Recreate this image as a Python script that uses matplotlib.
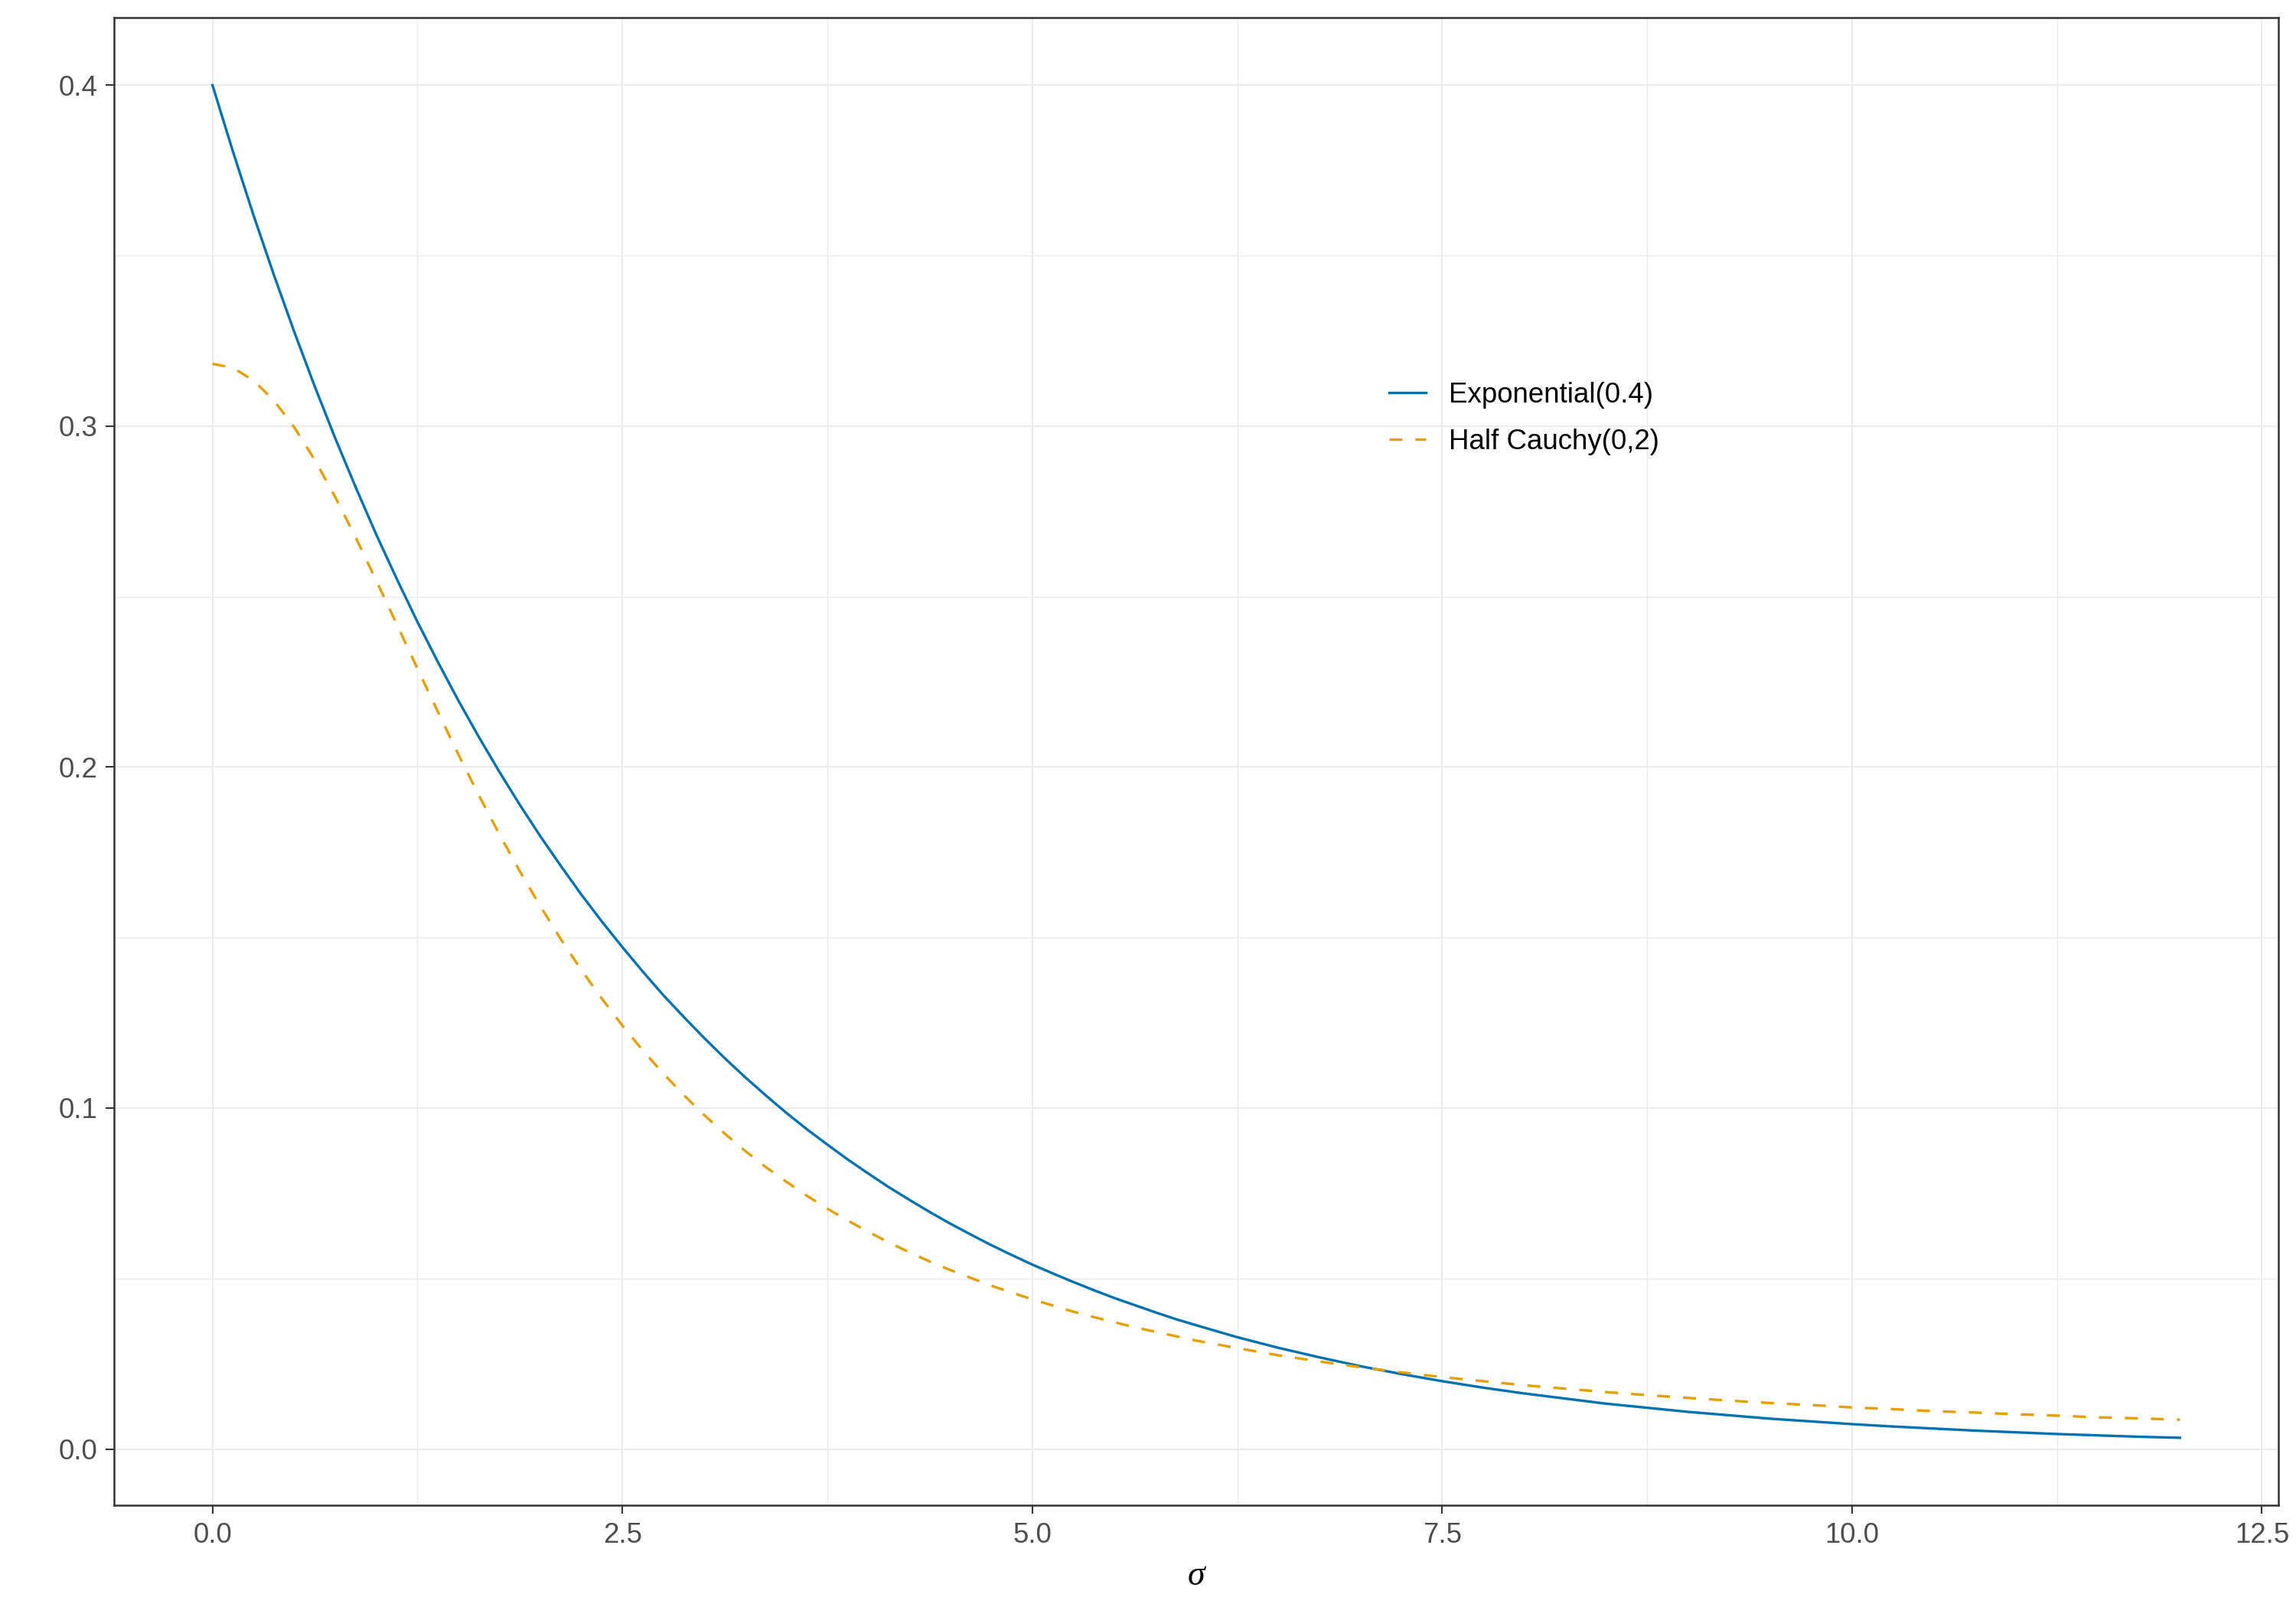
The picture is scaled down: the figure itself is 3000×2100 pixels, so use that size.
import numpy as np
import matplotlib
matplotlib.use("Agg")
import matplotlib.pyplot as plt
from matplotlib.patches import Rectangle
from matplotlib.lines import Line2D


# [DATA] ----------------------------------------------------------------------
# sigma grid: step 0.125 up to 6 (where the curves bend most), 0.25 after
sigma = [0.000, 0.125, 0.250, 0.375, 0.500, 0.625, 0.750, 0.875,
         1.000, 1.125, 1.250, 1.375, 1.500, 1.625, 1.750, 1.875,
         2.000, 2.125, 2.250, 2.375, 2.500, 2.625, 2.750, 2.875,
         3.000, 3.125, 3.250, 3.375, 3.500, 3.625, 3.750, 3.875,
         4.000, 4.125, 4.250, 4.375, 4.500, 4.625, 4.750, 4.875,
         5.000, 5.125, 5.250, 5.375, 5.500, 5.625, 5.750, 5.875,
         6.00, 6.25, 6.50, 6.75, 7.00, 7.25, 7.50, 7.75,
         8.00, 8.25, 8.50, 8.75, 9.00, 9.25, 9.50, 9.75,
         10.00, 10.25, 10.50, 10.75, 11.00, 11.25, 11.50, 11.75, 12.00]

# densities
exponential = [0.4000, 0.3805, 0.3619, 0.3443, 0.3275, 0.3115, 0.2963, 0.2819,
               0.2681, 0.2551, 0.2426, 0.2308, 0.2195, 0.2088, 0.1986, 0.1889,
               0.1797, 0.1710, 0.1626, 0.1547, 0.1472, 0.1400, 0.1331, 0.1267,
               0.1205, 0.1146, 0.1090, 0.1037, 0.0986, 0.0938, 0.0893, 0.0849,
               0.0808, 0.0768, 0.0731, 0.0695, 0.0661, 0.0629, 0.0598, 0.0569,
               0.0541, 0.0515, 0.0490, 0.0466, 0.0443, 0.0422, 0.0401, 0.0381,
               0.0363, 0.0328, 0.0297, 0.0269, 0.0243, 0.0220, 0.0199, 0.0180,
               0.0163, 0.0148, 0.0133, 0.0121, 0.0109, 0.0099, 0.0089, 0.0081,
               0.0073, 0.0066, 0.0060, 0.0054, 0.0049, 0.0044, 0.0040, 0.0036,
               0.0033]

half_cauchy = [0.3183, 0.3171, 0.3134, 0.3075, 0.2996, 0.2900, 0.2791, 0.2672,
               0.2546, 0.2418, 0.2289, 0.2162, 0.2037, 0.1917, 0.1803, 0.1694,
               0.1592, 0.1495, 0.1405, 0.1321, 0.1242, 0.1169, 0.1101, 0.1038,
               0.0979, 0.0925, 0.0874, 0.0827, 0.0784, 0.0743, 0.0705, 0.0670,
               0.0637, 0.0606, 0.0577, 0.0550, 0.0525, 0.0502, 0.0479, 0.0459,
               0.0439, 0.0421, 0.0403, 0.0387, 0.0372, 0.0357, 0.0344, 0.0331,
               0.0318, 0.0296, 0.0275, 0.0257, 0.0240, 0.0225, 0.0211, 0.0199,
               0.0187, 0.0177, 0.0167, 0.0158, 0.0150, 0.0142, 0.0135, 0.0129,
               0.0122, 0.0117, 0.0111, 0.0107, 0.0102, 0.0098, 0.0093, 0.0090,
               0.0086]

labels = ["Exponential(0.4)", "Half Cauchy(0,2)"]
x_ticks = [0.0, 2.5, 5.0, 7.5, 10.0, 12.5]
y_ticks = [0.0, 0.1, 0.2, 0.3, 0.4]

# [END DATA]


# [PLOT] ----------------------------------------------------------------------
plt.rcParams['font.family'] = ['Liberation Sans', 'DejaVu Sans']

blue = "#0072B2"
orange = "#E69F00"
grid_col = "#EBEBEB"
lw = 0.8
dash = (5.1, 5.1)

fig = plt.figure(figsize=(10, 7), dpi=300)
ax = fig.add_axes([0.0497, 0.0633, 0.9426, 0.9257])

ax.plot(sigma, exponential, color=blue, lw=lw, solid_joinstyle="round", zorder=3)
ax.plot(sigma, half_cauchy, color=orange, lw=lw, dashes=dash, zorder=3)

ax.set_xlim(-0.6, 12.6)
ax.set_ylim(-0.0165, 0.4198)
ax.set_xticks(x_ticks)
ax.set_xticklabels([f"{v:.1f}" for v in x_ticks])
ax.set_yticks(y_ticks)
ax.set_yticklabels([f"{v:.1f}" for v in y_ticks])
ax.set_xticks([1.25, 3.75, 6.25, 8.75, 11.25], minor=True)
ax.set_yticks([0.05, 0.15, 0.25, 0.35], minor=True)

ax.grid(which="major", color=grid_col, lw=0.5, zorder=0)
ax.grid(which="minor", color=grid_col, lw=0.35, zorder=0)
ax.set_axisbelow(True)

ax.tick_params(which="major", length=2.75, width=0.5, color="#333333",
               labelsize=8.8, labelcolor="#4D4D4D", pad=2.4)
ax.tick_params(which="minor", length=0)
for s in ax.spines.values():
    s.set_color("#333333")
    s.set_linewidth(0.6)

ax.set_xlabel("σ", fontfamily="Liberation Serif", fontstyle="italic",
              fontsize=11, labelpad=3.5)

# legend: white key boxes behind the lines, no frame
key_bg = Rectangle((0, 0), 1, 1, facecolor="white", edgecolor="none")
h_exp = Line2D([], [], color=blue, lw=lw)
h_hc = Line2D([], [], color=orange, lw=lw, dashes=dash)
ax.legend([(key_bg, h_exp), (key_bg, h_hc)], labels,
          loc="center left", bbox_to_anchor=(0.605, 0.7395),
          bbox_transform=fig.transFigure, frameon=False, fontsize=8.8,
          handlelength=1.31, handletextpad=0.82, labelspacing=0.7,
          borderpad=0, borderaxespad=0)

fig.savefig("out.png", dpi=300)
# [END PLOT]
